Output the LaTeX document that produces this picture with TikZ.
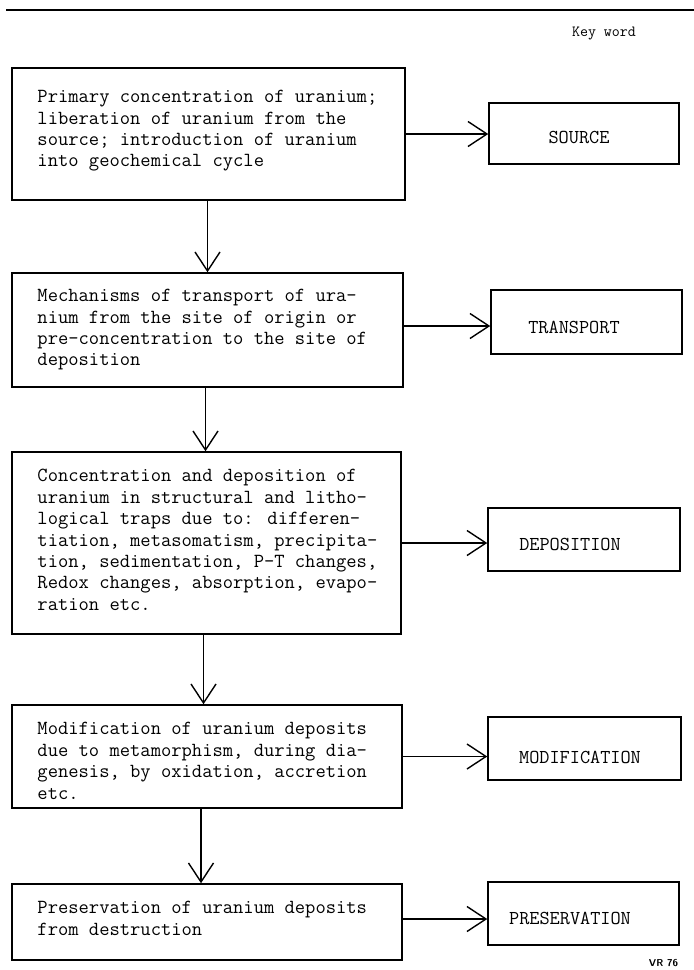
\documentclass[tikz,border=0pt]{standalone}
\usetikzlibrary{arrows.meta}
\begin{document}
\begin{tikzpicture}[x=1pt,y=-1pt,
  lbox/.style={draw, line width=1.5pt, inner sep=0pt, rectangle},
  rbox/.style={draw, line width=1.5pt, inner sep=0pt, rectangle},
  ltext/.style={anchor=north west, align=left, inner sep=0pt, font=\fontsize{20}{21.4}\selectfont\ttfamily},
  rtext/.style={inner sep=0pt, font=\fontsize{19.7}{22}\selectfont\ttfamily},
  arr/.style={line width=1.4pt, -{Straight Barb[length=19pt,width=25pt,line width=1.4pt]}}
]
\useasboundingbox (0,0) rectangle (694,970);
\coordinate (ruleL) at (6,10);
\coordinate (ruleR) at (694,10);
\draw[line width=1.8pt] (ruleL) -- (ruleR);
\node[inner sep=0pt, font=\fontsize{15.5}{18}\selectfont\ttfamily] (kw) at (604,34) {Key word};

% left boxes
\node[lbox, minimum width=393, minimum height=132] (b1) at (208.5,134) {};
\node[lbox, minimum width=391, minimum height=114] (b2) at (207.5,330) {};
\node[lbox, minimum width=389, minimum height=182] (b3) at (206.5,543) {};
\node[lbox, minimum width=390, minimum height=103] (b4) at (207,756.5) {};
\node[lbox, minimum width=390, minimum height=76] (b5) at (207,922) {};

\node[ltext] (t1) at ([xshift=26pt,yshift=-23pt]b1.north west) {Primary concentration of uranium;\\liberation of uranium from the\\source; introduction of uranium\\into geochemical cycle};
\node[ltext] (t2) at ([xshift=26pt,yshift=-17pt]b2.north west) {Mechanisms of transport of ura-\\nium from the site of origin or\\pre-concentration to the site of\\deposition};
\node[ltext] (t3) at ([xshift=26pt,yshift=-18pt]b3.north west) {Concentration and deposition of\\uranium in structural and litho-\\logical traps due to: differen-\\tiation, metasomatism, precipita-\\tion, sedimentation, P-T changes,\\Redox changes, absorption, evapo-\\ration etc.};
\node[ltext] (t4) at ([xshift=26pt,yshift=-18pt]b4.north west) {Modification of uranium deposits\\due to metamorphism, during dia-\\genesis, by oxidation, accretion\\etc.};
\node[ltext] (t5) at ([xshift=26pt,yshift=-18pt]b5.north west) {Preservation of uranium deposits\\from destruction};

% right boxes
\node[rbox, minimum width=190, minimum height=61] (s1) at (584,133.5) {};
\node[rbox, minimum width=191, minimum height=64] (s2) at (586.5,322) {};
\node[rbox, minimum width=192, minimum height=63] (s3) at (584,539.5) {};
\node[rbox, minimum width=193, minimum height=63] (s4) at (584.5,748.5) {};
\node[rbox, minimum width=191, minimum height=63] (s5) at (583.5,913.5) {};

\node[rtext] (k1) at (579,137) {SOURCE};
\node[rtext] (k2) at (574,327) {TRANSPORT};
\node[rtext] (k3) at (570,544) {DEPOSITION};
\node[rtext] (k4) at (580,757) {MODIFICATION};
\node[rtext] (k5) at (570,918) {PRESERVATION};

% vertical arrows
\draw[arr] ([xshift=-1pt]b1.south) -- ([xshift=-1pt]b1.south |- b2.north);
\draw[arr] ([xshift=-2pt]b2.south) -- ([xshift=-2pt]b2.south |- b3.north);
\draw[arr] ([xshift=-3pt]b3.south) -- ([xshift=-3pt]b3.south |- b4.north);
\draw[arr] ([xshift=-6pt]b4.south) -- ([xshift=-6pt]b4.south |- b5.north);

% horizontal arrows
\draw[arr] (b1.east) -- (b1.east -| s1.west);
\draw[arr] ([yshift=4pt]b2.east) -- ([yshift=4pt]b2.east -| s2.west);
\draw[arr] (b3.east) -- (b3.east -| s3.west);
\draw[arr] (b4.east) -- (b4.east -| s4.west);
\draw[arr] ([yshift=3pt]b5.east) -- ([yshift=3pt]b5.east -| s5.west);

\node[inner sep=0pt, font=\fontsize{10}{12}\selectfont\sffamily\bfseries] (vr) at (663.5,963) {VR 76};
\end{tikzpicture}
\end{document}
